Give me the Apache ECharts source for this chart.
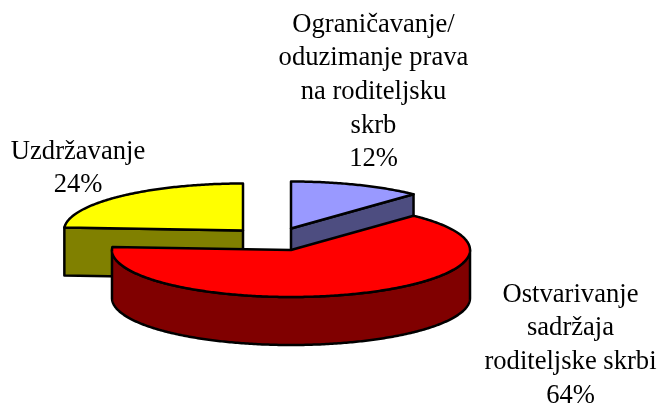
<!DOCTYPE html>
<html><head><meta charset="utf-8">
<style>html,body{margin:0;padding:0;background:#fff}#c{width:660px;height:407px}</style>
<script src="https://cdn.jsdelivr.net/npm/echarts@6/dist/echarts.min.js"></script>
</head><body><div id="c"></div>
<script>
const categories = ['Ograničavanje/\noduzimanje prava\nna roditeljsku\nskrb', 'Ostvarivanje\nsadržaja\nroditeljske skrbi', 'Uzdržavanje'];
const values = [12, 64, 24];
const topColors = ['#9999ff', '#ff0000', '#ffff00'];
const sideColors = ['#4d4d80', '#800000', '#808000'];
const centers = [[291, 228.5], [291, 250], [243, 230.5]];
const labelAnchors = [[373.5, 8], [570.5, 278], [78, 135]];
const drawOrder = [2, 0, 1];
const RX = 179, RY = 47, DEPTH = 48, LH = 33.6;

const total = values.reduce((a, b) => a + b, 0);
let acc = 0;
const spans = values.map(v => { const s = acc; acc += v; return [s / total * 360, acc / total * 360]; });

function pt(c, deg, dy) {
  const r = deg * Math.PI / 180;
  return [c[0] + RX * Math.sin(r), c[1] - RY * Math.cos(r) + (dy || 0)];
}
function arc(c, a, b, dy) {
  const n = Math.max(2, Math.ceil(Math.abs(b - a) * 1.5)), out = [];
  for (let i = 0; i <= n; i++) out.push(pt(c, a + (b - a) * i / n, dy));
  return out;
}
const lineStyle = (fill) => ({ fill, stroke: '#000', lineWidth: 2.5, lineJoin: 'round' });

function renderItem(params, api) {
  const i = api.value(0), c = centers[i], [a, b] = spans[i], kids = [];
  const poly = (points, fill) => kids.push({ type: 'polygon', shape: { points }, style: lineStyle(fill) });
  const apex = c, apexLow = [c[0], c[1] + DEPTH];
  if (i === 2) poly([pt(c, a), apex, apexLow, pt(c, a, DEPTH)], sideColors[i]);
  if (i === 0) poly([apex, pt(c, b), pt(c, b, DEPTH), apexLow], sideColors[i]);
  const f0 = Math.max(a, 90), f1 = Math.min(b, 270);
  if (f1 > f0) poly(arc(c, f0, f1).concat(arc(c, f1, f0, DEPTH)), sideColors[i]);
  poly([apex].concat(arc(c, a, b)), topColors[i]);
  return { type: 'group', children: kids };
}

const chart = echarts.init(document.getElementById('c'), null, { renderer: 'canvas' });
const font = { fontFamily: '"Liberation Serif"', fontSize: 26.6, fill: '#000', align: 'center', verticalAlign: 'top', lineHeight: LH };
chart.setOption({
  animation: false,
  backgroundColor: '#fff',
  series: [{
    type: 'custom', coordinateSystem: 'none', clip: false,
    data: drawOrder.map(i => [i]),
    renderItem
  }, {
    type: 'custom', coordinateSystem: 'none', clip: false,
    data: [0, 1, 2].map(i => [i]),
    renderItem(p, api) {
      const i = api.value(0);
      return { type: 'text', x: labelAnchors[i][0], y: labelAnchors[i][1],
        style: Object.assign({ text: categories[i] + '\n' + values[i] + '%' }, font) };
    }
  }]
});
</script></body></html>
